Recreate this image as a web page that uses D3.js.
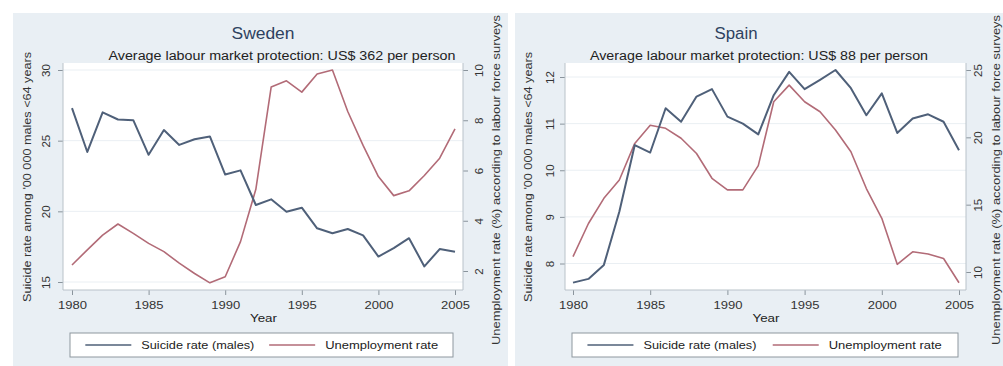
<!DOCTYPE html>
<html>
<head>
<meta charset="utf-8">
<script src="https://cdn.jsdelivr.net/npm/d3@7"></script>
<style>
  html, body { margin: 0; padding: 0; background: #ffffff; }
  svg { display: block; font-family: "Liberation Sans", Arial, sans-serif; }
</style>
</head>
<body>
<svg id="chart" width="1003" height="366"></svg>
<script>
// Years shared by both countries
const years = [1980, 1981, 1982, 1983, 1984, 1985, 1986, 1987, 1988, 1989,
               1990, 1991, 1992, 1993, 1994, 1995, 1996, 1997, 1998, 1999,
               2000, 2001, 2002, 2003, 2004, 2005];

// Sweden: male suicide rate per 100 000 (<64 years) and unemployment rate (%)
const swedenSuicide = [27.3, 24.2, 27.0, 26.5, 26.45, 24.0, 25.75, 24.7, 25.1, 25.3,
                       22.6, 22.9, 20.45, 20.85, 19.97, 20.26, 18.8, 18.45, 18.75, 18.3,
                       16.8, 17.4, 18.1, 16.1, 17.33, 17.14];
const swedenUnemp = [2.24, 2.84, 3.43, 3.87, 3.5, 3.1, 2.77, 2.31, 1.9, 1.53,
                     1.77, 3.17, 5.25, 9.32, 9.57, 9.12, 9.84, 10.0, 8.35, 7.0,
                     5.76, 5.0, 5.19, 5.8, 6.49, 7.66];

// Spain: male suicide rate per 100 000 (<64 years) and unemployment rate (%)
const spainSuicide = [7.59, 7.67, 7.97, 9.11, 10.54, 10.38, 11.33, 11.04, 11.58, 11.74,
                      11.15, 11.0, 10.77, 11.61, 12.11, 11.74, 11.94, 12.15, 11.76, 11.18,
                      11.65, 10.8, 11.11, 11.2, 11.04, 10.43];
const spainUnemp = [11.14, 13.6, 15.47, 16.83, 19.55, 20.9, 20.67, 19.93, 18.8, 16.96,
                    16.1, 16.1, 17.9, 22.64, 23.88, 22.64, 21.9, 20.54, 18.93, 16.2,
                    13.99, 10.57, 11.5, 11.34, 11.0, 9.2];

// Tick labels
const xTicks = [1980, 1985, 1990, 1995, 2000, 2005];
const swedenSuicideTicks = [15, 20, 25, 30];
const swedenUnempTicks = [2, 4, 6, 8, 10];
const spainSuicideTicks = [8, 9, 10, 11, 12];
const spainUnempTicks = [10, 15, 20, 25];

// Text
const countries = ["Sweden", "Spain"];
const subtitles = ["Average labour market protection: US$ 362 per person",
                   "Average labour market protection: US$ 88 per person"];
const leftTitle = "Suicide rate among '00 000 males <64 years";
const rightTitle = "Unemployment rate (%) according to labour force surveys";
const xTitle = "Year";
const legendLabels = ["Suicide rate (males)", "Unemployment rate"];

const suicideColor = "#4f6079";
const unempColor = "#b26b77";
const panelBg = "#e9eff4";

const svg = d3.select("#chart");

// Stretch a text element to a set width (the print face is wide)
const fit = (sel, len) => sel.attr("textLength", len).attr("lengthAdjust", "spacingAndGlyphs");

// Layout of each panel (pixel geometry)
const panels = [
  {
    name: countries[0], subtitle: subtitles[0],
    suicide: swedenSuicide, unemp: swedenUnemp,
    leftTicks: swedenSuicideTicks, rightTicks: swedenUnempTicks,
    leftDomain: [15, 30], leftRange: [282, 70],
    rightDomain: [2, 10], rightRange: [271, 70],
    xRange: [72, 455],
    bg: [13, 13, 495, 353],
    plot: [63, 63, 463, 290],
    titleX: 263, titleLen: 63, subtitleX: 282, subtitleLen: 347,
    leftTitleX: 27, rightTitleX: 496,
    leftLabelOff: -17, rightLabelOff: 16,
    legend: [70, 333, 453, 357]
  },
  {
    name: countries[1], subtitle: subtitles[1],
    suicide: spainSuicide, unemp: spainUnemp,
    leftTicks: spainSuicideTicks, rightTicks: spainUnempTicks,
    leftDomain: [8, 12], leftRange: [263.5, 77],
    rightDomain: [10, 25], rightRange: [272, 70],
    xRange: [573, 959],
    bg: [515, 13, 500, 353],
    plot: [565, 63, 966, 290],
    titleX: 736, titleLen: 43, subtitleX: 759, subtitleLen: 338,
    leftTitleX: 528, rightTitleX: 996,
    leftLabelOff: -15, rightLabelOff: 12,
    legend: [572, 333, 958, 357]
  }
];

panels.forEach(p => {
  const g = svg.append("g");
  const [px0, py0, px1, py1] = p.plot;

  // Panel background and white plot region
  g.append("rect").attr("x", p.bg[0]).attr("y", p.bg[1])
    .attr("width", p.bg[2]).attr("height", p.bg[3]).attr("fill", panelBg);
  g.append("rect").attr("x", px0).attr("y", py0)
    .attr("width", px1 - px0).attr("height", py1 - py0).attr("fill", "#ffffff");

  const x = d3.scaleLinear().domain([1980, 2005]).range(p.xRange);
  const yL = d3.scaleLinear().domain(p.leftDomain).range(p.leftRange);
  const yR = d3.scaleLinear().domain(p.rightDomain).range(p.rightRange);

  // Horizontal gridlines at the left-axis ticks
  g.append("g").selectAll("line").data(p.leftTicks).join("line")
    .attr("x1", px0).attr("x2", px1)
    .attr("y1", d => yL(d)).attr("y2", d => yL(d))
    .attr("stroke", "#eaeff3").attr("stroke-width", 1);

  // Axes
  const axisStyle = sel => {
    sel.select(".domain").remove();
    sel.selectAll(".tick line").attr("stroke", "#8a949c");
    sel.selectAll(".tick text").attr("fill", "#333").attr("font-size", 11.5);
  };

  const xAxis = g.append("g").attr("transform", `translate(0,${py1})`)
    .call(d3.axisBottom(x).tickValues(xTicks).tickFormat(d3.format("d"))
      .tickSize(5).tickPadding(4));
  axisStyle(xAxis);
  xAxis.selectAll(".tick text").attr("dy", "0.9em").call(fit, 29);

  const leftAxis = g.append("g").attr("transform", `translate(${px0},0)`)
    .call(d3.axisLeft(yL).tickValues(p.leftTicks).tickFormat(d3.format("d"))
      .tickSize(5).tickPadding(0));
  axisStyle(leftAxis);
  leftAxis.selectAll(".tick text")
    .attr("text-anchor", "middle").attr("x", 0).attr("dy", 0)
    .attr("transform", `translate(${p.leftLabelOff + 4},0) rotate(-90)`);

  const rightAxis = g.append("g").attr("transform", `translate(${px1},0)`)
    .call(d3.axisRight(yR).tickValues(p.rightTicks).tickFormat(d3.format("d"))
      .tickSize(5).tickPadding(0));
  axisStyle(rightAxis);
  rightAxis.selectAll(".tick text")
    .attr("text-anchor", "middle").attr("x", 0).attr("dy", 0)
    .attr("transform", `translate(${p.rightLabelOff + 4},0) rotate(-90)`);

  // Axis lines along the plot region edges
  g.append("line").attr("x1", px0).attr("x2", px0).attr("y1", py0).attr("y2", py1)
    .attr("stroke", "#b9c2c9");
  g.append("line").attr("x1", px1).attr("x2", px1).attr("y1", py0).attr("y2", py1)
    .attr("stroke", "#b9c2c9");
  g.append("line").attr("x1", px0).attr("x2", px1).attr("y1", py1).attr("y2", py1)
    .attr("stroke", "#b9c2c9");

  // Series lines
  const suicideLine = d3.line().x((d, i) => x(years[i])).y(d => yL(d));
  const unempLine = d3.line().x((d, i) => x(years[i])).y(d => yR(d));

  g.append("path").datum(p.unemp).attr("d", unempLine)
    .attr("fill", "none").attr("stroke", unempColor).attr("stroke-width", 1.6)
    .attr("stroke-linejoin", "round");
  g.append("path").datum(p.suicide).attr("d", suicideLine)
    .attr("fill", "none").attr("stroke", suicideColor).attr("stroke-width", 2)
    .attr("stroke-linejoin", "round");

  // Titles
  g.append("text").attr("x", p.titleX).attr("y", 39).attr("text-anchor", "middle")
    .attr("font-size", 16).attr("fill", "#2e4260").text(p.name).call(fit, p.titleLen);
  g.append("text").attr("x", p.subtitleX).attr("y", 60).attr("text-anchor", "middle")
    .attr("font-size", 12).attr("fill", "#222").text(p.subtitle).call(fit, p.subtitleLen);

  // X axis title
  g.append("text").attr("x", (p.xRange[0] + p.xRange[1]) / 2).attr("y", 322)
    .attr("text-anchor", "middle").attr("font-size", 11.5).attr("fill", "#222")
    .text(xTitle).call(fit, 27);

  // Y axis titles
  g.append("text").attr("transform", `translate(${p.leftTitleX},177) rotate(-90)`)
    .attr("text-anchor", "middle").attr("dy", "0.35em")
    .attr("font-size", 11).attr("fill", "#333").text(leftTitle).call(fit, 250);
  g.append("text").attr("transform", `translate(${p.rightTitleX},180) rotate(-90)`)
    .attr("text-anchor", "middle").attr("dy", "0.35em")
    .attr("font-size", 11).attr("fill", "#333").text(rightTitle).call(fit, 330);

  // Legend
  const [lx0, ly0, lx1, ly1] = p.legend;
  const lg = g.append("g");
  lg.append("rect").attr("x", lx0).attr("y", ly0).attr("width", lx1 - lx0)
    .attr("height", ly1 - ly0).attr("fill", "#ffffff").attr("stroke", "#8e979e");
  const ly = (ly0 + ly1) / 2;
  const w = lx1 - lx0;
  const items = [
    { label: legendLabels[0], color: suicideColor, sw: 1.6, start: lx0 + w * 0.04 },
    { label: legendLabels[1], color: unempColor, sw: 1.3, start: lx0 + w * 0.52 }
  ];
  items.forEach(it => {
    lg.append("line").attr("x1", it.start).attr("x2", it.start + 46)
      .attr("y1", ly).attr("y2", ly).attr("stroke", it.color).attr("stroke-width", it.sw);
    lg.append("text").attr("x", it.start + 56).attr("y", ly).attr("dy", "0.35em")
      .attr("font-size", 11.5).attr("fill", "#222").text(it.label).call(fit, 113);
  });
});
</script>
</body>
</html>
